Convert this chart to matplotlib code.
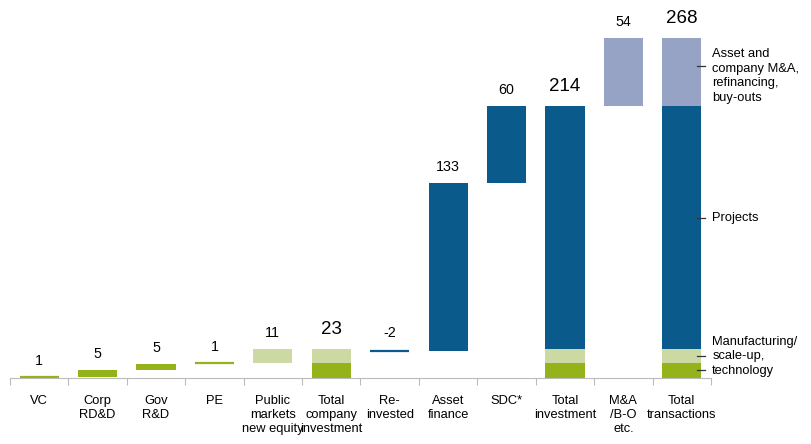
import matplotlib.pyplot as plt
import numpy as np

plt.rcParams['font.family'] = ['Liberation Sans', 'DejaVu Sans']

categories = ["VC", "Corp\nRD&D", "Gov\nR&D", "PE", "Public\nmarkets\nnew equity",
              "Total\ncompany\ninvestment", "Re-\ninvested", "Asset\nfinance", "SDC*",
              "Total\ninvestment", "M&A\n/B-O\netc.", "Total\ntransactions"]
value_labels = ["1", "5", "5", "1", "11", "23", "-2", "133", "60", "214", "54", "268"]
is_total = [False, False, False, False, False, True, False, False, False, True, False, True]

# stacked segments: (category index, bottom, height, colour key)
tech = 12
mfg = 11
projects = 191
mna = 54
segments = [
    (0, 0, 1, "dg"), (1, 1, 5, "dg"), (2, 6, 5, "dg"), (3, 11, 1, "dg"),
    (4, 12, 11, "lg"),
    (5, 0, tech, "dg"), (5, tech, mfg, "lg"),
    (6, 21, 2, "bl"),
    (7, 21, 133, "bl"),
    (8, 154, 60, "bl"),
    (9, 0, tech, "dg"), (9, tech, mfg, "lg"), (9, tech + mfg, projects, "bl"),
    (10, 214, mna, "lv"),
    (11, 0, tech, "dg"), (11, tech, mfg, "lg"), (11, tech + mfg, projects, "bl"),
    (11, tech + mfg + projects, mna, "lv"),
]
colors = {"dg": "#94B21A", "lg": "#CCD9A3", "bl": "#0B5A8C", "lv": "#97A3C5"}

fig = plt.figure(figsize=(8.11, 4.44), dpi=100)
ax = fig.add_axes([10 / 811, 66 / 444, 701 / 811, 368 / 444])

w = 0.67
for i, b, h, c in segments:
    if i == 6:
        ax.plot([i - w / 2, i + w / 2], [b, b], color=colors[c], lw=1.6, solid_capstyle="butt")
    elif h <= 1:
        ax.plot([i - w / 2, i + w / 2], [b + h / 2, b + h / 2], color=colors[c], lw=1.6,
                solid_capstyle="butt")
    else:
        ax.bar(i, h, w, bottom=b, color=colors[c], linewidth=0)

tops = {}
for i, b, h, c in segments:
    tops[i] = max(tops.get(i, 0), b + h)
tops[6] = 23

for i, lab in enumerate(value_labels):
    if is_total[i]:
        ax.annotate(lab, (i, tops[i]), xytext=(0, 8), textcoords="offset points",
                    ha="center", va="bottom", fontsize=13.5)
    else:
        ax.annotate(lab, (i, tops[i]), xytext=(0, 6.5), textcoords="offset points",
                    ha="center", va="bottom", fontsize=10.3)

ax.set_xlim(-0.5, 11.5)
ax.set_ylim(0, 290)
for s in ["top", "right", "left"]:
    ax.spines[s].set_visible(False)
ax.spines["bottom"].set_color("#BBBBBB")
ax.set_yticks([])
ax.set_xticks(np.arange(-0.5, 11.6, 1))
ax.set_xticklabels([])
ax.tick_params(axis="x", which="major", length=5, color="#BBBBBB", direction="out")
ax.set_xticks(np.arange(12), minor=True)
ax.set_xticklabels(categories, minor=True, fontsize=9.3, linespacing=1.25, va="top")
ax.tick_params(axis="x", which="minor", length=0, pad=12)

# side notes
x_dash = [11.26, 11.4]
x_text = 11.52
notes = [
    (238, "Asset and\ncompany M&A,\nrefinancing,\nbuy-outs", [246]),
    (126, "Projects", [126]),
    (17, "Manufacturing/\nscale-up,\ntechnology", [17.5, 6]),
]
for y, txt, dashes in notes:
    ax.text(x_text, y, txt, ha="left", va="center", fontsize=9.3,
            linespacing=1.3, clip_on=False)
    for yd in dashes:
        ax.plot(x_dash, [yd, yd], color="#333333", lw=0.9, clip_on=False)

fig.savefig("out.png", dpi=100)
